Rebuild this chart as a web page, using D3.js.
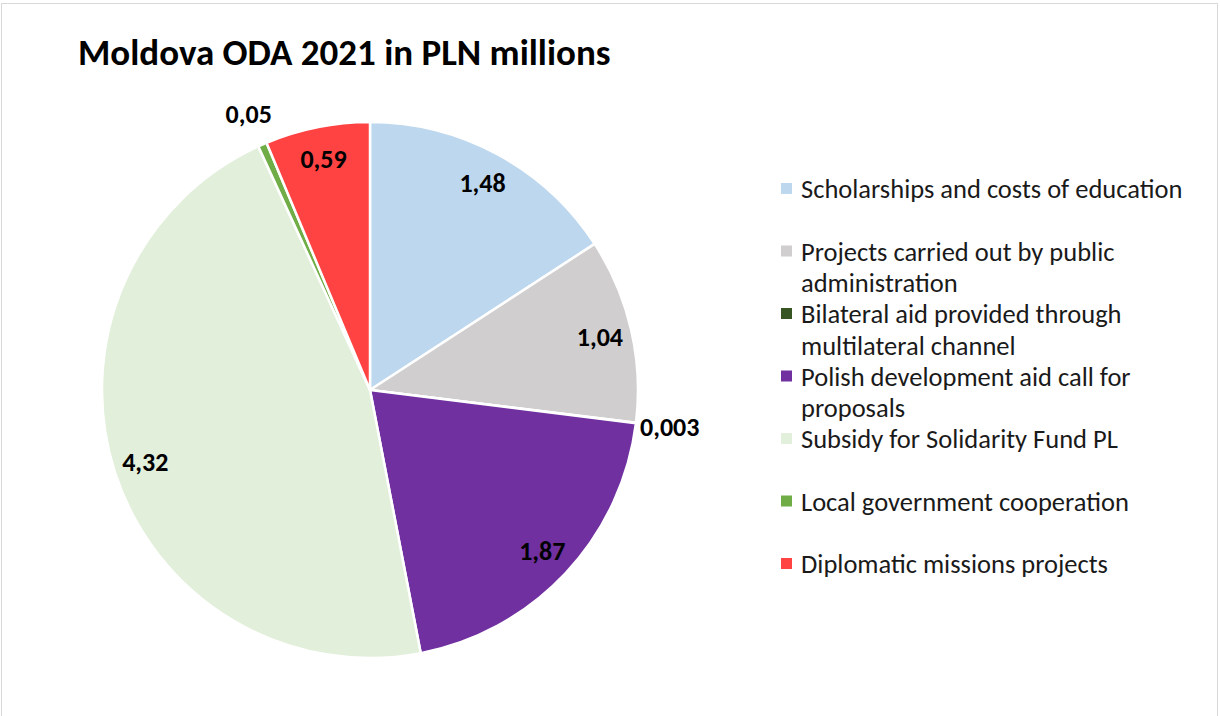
<!DOCTYPE html>
<html><head><meta charset="utf-8">
<script src="https://cdn.jsdelivr.net/npm/d3@7"></script>
<style>
html,body{margin:0;padding:0;background:#fff;}
svg text{font-family:Carlito, Lato, "Noto Sans", sans-serif;}
</style></head>
<body>
<svg id="chart" width="1220" height="716"></svg>
<script>
const title = "Moldova ODA 2021 in PLN millions";
const categories = [
  "Scholarships and costs of education",
  "Projects carried out by public administration",
  "Bilateral aid provided through multilateral channel",
  "Polish development aid call for proposals",
  "Subsidy for Solidarity Fund PL",
  "Local government cooperation",
  "Diplomatic missions projects"
];
const values = [1.48, 1.04, 0.003, 1.87, 4.32, 0.05, 0.59];
const valueLabels = ["1,48", "1,04", "0,003", "1,87", "4,32", "0,05", "0,59"];
const colors = ["#BDD7EE", "#D0CECE", "#375623", "#7030A0", "#E2EFDA", "#70AD47", "#FF4343"];
const legendLines = [
  ["Scholarships and costs of education"],
  ["Projects carried out by public", "administration"],
  ["Bilateral aid provided through", "multilateral channel"],
  ["Polish development aid call for", "proposals"],
  ["Subsidy for Solidarity Fund PL"],
  ["Local government cooperation"],
  ["Diplomatic missions projects"]
];
const outsideLabel = [false, false, true, false, false, true, false];

const svg = d3.select("#chart");
svg.append("rect").attr("x", 1.5).attr("y", 3.5).attr("width", 1216).attr("height", 720)
  .attr("fill", "#fff").attr("stroke", "#D9D9D9").attr("stroke-width", 1);

svg.append("text").attr("x", 78).attr("y", 65).attr("font-size", 37).attr("font-weight", "bold")
  .attr("fill", "#000").text(title);

const cx = 370, cy = 390, R = 268;
const pie = d3.pie().sort(null).value(d => d);
const arcs = pie(values);
const arc = d3.arc().innerRadius(0).outerRadius(R);
const g = svg.append("g").attr("transform", `translate(${cx},${cy})`);
g.selectAll("path").data(arcs).enter().append("path")
  .attr("d", arc).attr("fill", (d, i) => colors[i])
  .attr("stroke", "#fff").attr("stroke-width", 2.5).attr("stroke-linejoin", "round");

const labelArcIn = d3.arc().innerRadius(236).outerRadius(236);
const labelArcOut = d3.arc().innerRadius(302).outerRadius(302);
g.selectAll("text.lbl").data(arcs).enter().append("text")
  .attr("class", "lbl")
  .attr("transform", (d, i) => `translate(${(outsideLabel[i] ? labelArcOut : labelArcIn).centroid(d)})`)
  .attr("text-anchor", "middle").attr("dy", "0.35em")
  .attr("font-size", 26).attr("font-weight", "bold").attr("fill", "#000")
  .text((d, i) => valueLabels[i]);

const lg = svg.append("g");
const slot = 62.5, y0 = 189, lineH = 31.5;
categories.forEach((c, i) => {
  const y = y0 + i * slot;
  lg.append("rect").attr("x", 781).attr("y", y - 6).attr("width", 11).attr("height", 11).attr("fill", colors[i]);
  const t = lg.append("text").attr("x", 801).attr("y", y).attr("dy", "0.35em")
    .attr("font-size", 26.5).attr("fill", "#1a1a1a");
  legendLines[i].forEach((ln, k) => {
    t.append("tspan").attr("x", 801).attr("y", y + k * lineH).attr("dy", "0.35em").text(ln);
  });
});
</script>
</body></html>
